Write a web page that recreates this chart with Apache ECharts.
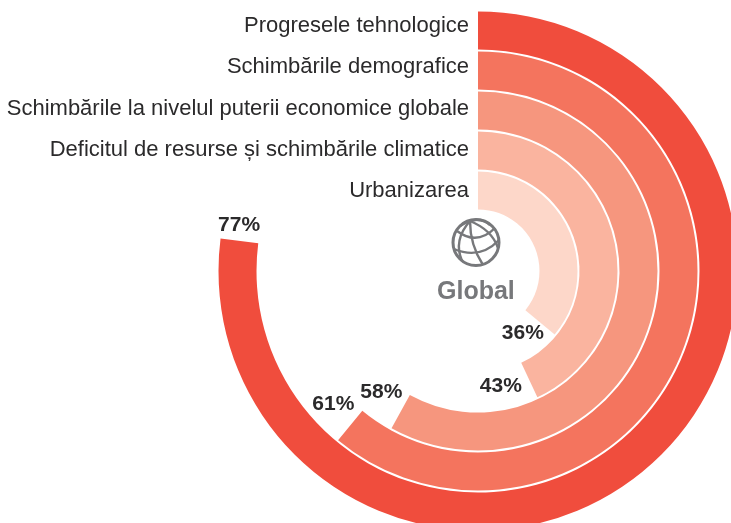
<!DOCTYPE html>
<html>
<head>
<meta charset="utf-8">
<style>
  html, body { margin: 0; padding: 0; background: #fff; overflow: hidden; }
  #chart { width: 731px; height: 523px; }
</style>
<script src="https://cdn.jsdelivr.net/npm/echarts@6/dist/echarts.min.js"></script>
</head>
<body>
<div id="chart"></div>
<script>
// de sus in jos = din exterior spre centru
const categories = [
  'Progresele tehnologice',
  'Schimbările demografice',
  'Schimbările la nivelul puterii economice globale',
  'Deficitul de resurse și schimbările climatice',
  'Urbanizarea'
];
const values = [77, 61, 58, 43, 36];
const colors = ['#f04d3d', '#f4745e', '#f6967e', '#fab49f', '#fdd7c9'];

// etichetele de pe axa stau putin mai sus decat mijlocul inelului (padding jos)
const categoryLift = [10, 8, 4, 2, 0];
// procentele stau dupa capatul barei
const labelOffsets = [[-22, -11], [-34, -18], [-36, -17], [-45, 4], [-35, 7]];

const FONT = '"Liberation Sans", Arial, sans-serif';
const TEXT = '#2b2a2b';
const GREY = '#77787b';

const chart = echarts.init(document.getElementById('chart'), null, { renderer: 'canvas' });

// globul din centru: [x1, y1, cpx, cpy, x2, y2]
const globeLines = [
  [470, 221, 453, 240, 462, 261],
  [470, 221, 470, 245, 483, 265],
  [470, 221, 492, 230, 498, 248],
  [457, 231, 477, 246, 495, 228],
  [454, 249, 480, 260, 499, 240],
  [460, 226, 478, 214, 490, 225]
];

const labelStyles = {};
categoryLift.forEach((p, i) => {
  labelStyles['c' + i] = { padding: [0, 0, p, 0], fontFamily: FONT, fontSize: 22, color: TEXT };
});

chart.setOption({
  animation: false,
  backgroundColor: '#fff',
  polar: { center: [478, 271], radius: [60.5, 260.5] },
  angleAxis: { min: 0, max: 100, startAngle: 90, clockwise: true, show: false },
  radiusAxis: {
    type: 'category',
    data: categories,
    inverse: true,
    axisLine: { show: false },
    axisTick: { show: false },
    splitLine: { show: false },
    axisLabel: {
      show: true,
      interval: 0,
      hideOverlap: false,
      margin: 9,
      formatter: (name, idx) => '{c' + idx + '|' + name + '}',
      rich: labelStyles
    }
  },
  series: [{
    type: 'bar',
    coordinateSystem: 'polar',
    barWidth: 38,
    data: values.map((v, i) => ({
      value: v,
      itemStyle: { color: colors[i] },
      label: { offset: labelOffsets[i] }
    })),
    label: {
      show: true,
      position: 'end',
      rotate: 0,
      formatter: '{c}%',
      fontFamily: FONT,
      fontSize: 21,
      fontWeight: 'bold',
      color: TEXT
    }
  }],
  graphic: [
    {
      type: 'text',
      x: 437,
      y: 280,
      style: { text: 'Global', fontFamily: FONT, fontSize: 25, fontWeight: 'bold', fill: GREY }
    },
    {
      type: 'circle',
      shape: { cx: 476, cy: 242.5, r: 23 },
      style: { fill: 'none', stroke: GREY, lineWidth: 3 }
    }
  ].concat(globeLines.map(l => ({
    type: 'bezierCurve',
    shape: { x1: l[0], y1: l[1], cpx1: l[2], cpy1: l[3], x2: l[4], y2: l[5] },
    style: { fill: 'none', stroke: GREY, lineWidth: 2.4 }
  })))
});
</script>
</body>
</html>
